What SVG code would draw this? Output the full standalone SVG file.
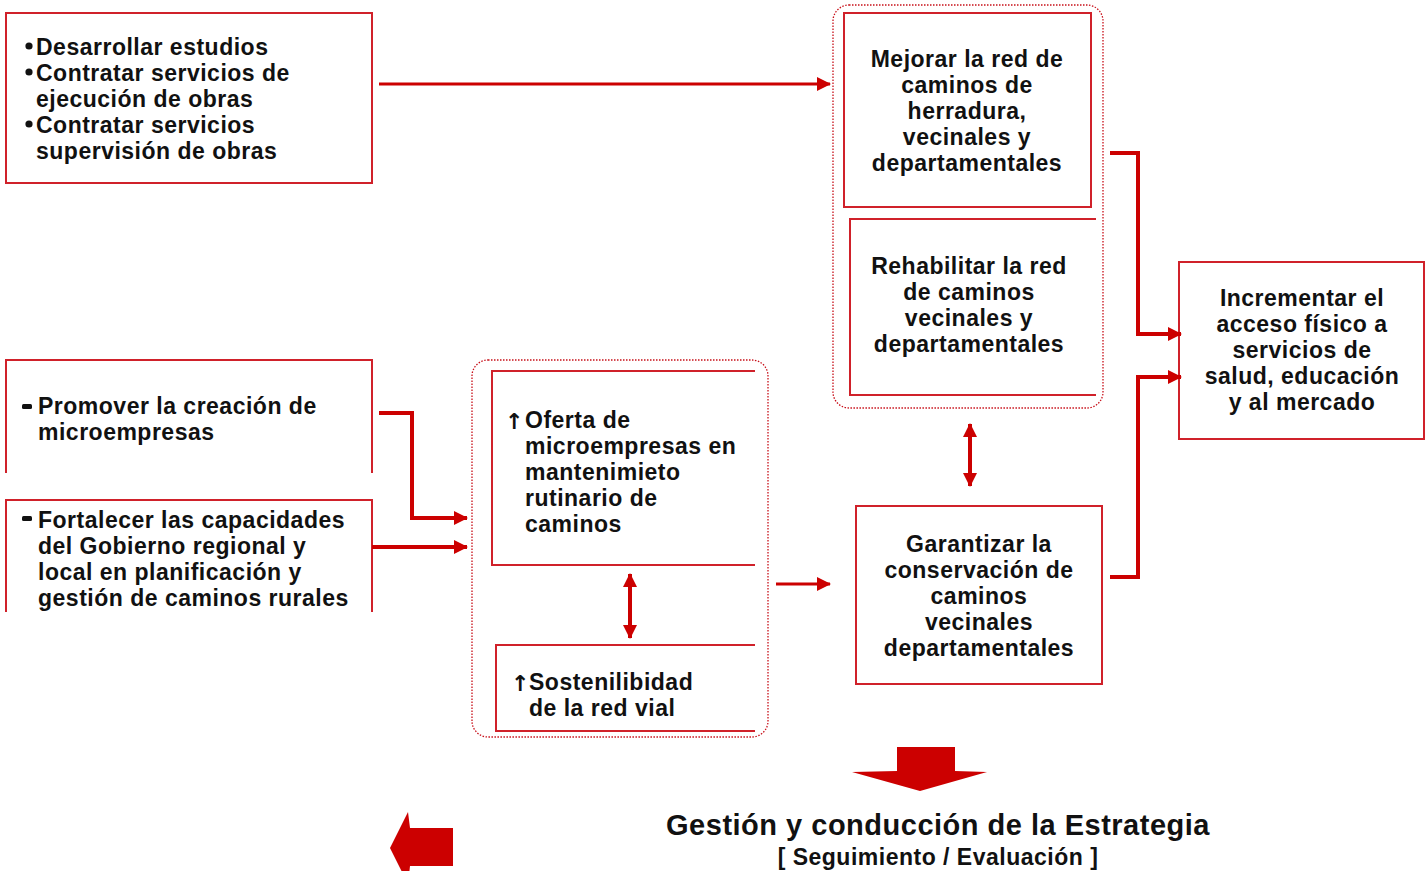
<svg xmlns="http://www.w3.org/2000/svg" width="1428" height="871" viewBox="0 0 1428 871">
<style>
.box{fill:none;stroke:#D0212A;stroke-width:2}
.grp{fill:none;stroke:#C8101A;stroke-width:1.3;stroke-dasharray:1.5 1.5}
.t{font-family:"Liberation Sans",Arial,sans-serif;font-weight:bold;font-size:23px;letter-spacing:0.5px;fill:#111}
.c{text-anchor:middle}
.con{fill:none;stroke:#CC0000;stroke-width:4}
.thin{stroke-width:3}
.red{fill:#CC0000}
.sym{font-family:"DejaVu Sans",sans-serif;font-weight:bold;font-size:22px;fill:#111}
</style>
<defs>
<marker id="ah" markerUnits="userSpaceOnUse" markerWidth="16" markerHeight="16" refX="13" refY="7" orient="auto">
<path d="M0,0 L14,7 L0,14 Z" fill="#CC0000"/>
</marker>
<marker id="ahs" markerUnits="userSpaceOnUse" markerWidth="16" markerHeight="16" refX="13" refY="7" orient="auto-start-reverse">
<path d="M0,0 L14,7 L0,14 Z" fill="#CC0000"/>
</marker>
</defs>

<g id="n-actividades">
<rect class="box" x="6" y="13" width="366" height="170"/>
<circle style="fill:#111" cx="29" cy="46" r="3.6"/>
<circle style="fill:#111" cx="29" cy="72" r="3.6"/>
<circle style="fill:#111" cx="29" cy="124" r="3.6"/>
<text class="t" x="36" y="55">Desarrollar estudios</text>
<text class="t" x="36" y="81">Contratar servicios de</text>
<text class="t" x="36" y="107">ejecución de obras</text>
<text class="t" x="36" y="133">Contratar servicios</text>
<text class="t" x="36" y="159">supervisión de obras</text>
</g>

<g id="g-top">
<rect class="grp" x="833" y="5" width="270" height="403" rx="16"/>
</g>
<g id="n-mejorar">
<rect class="box" x="844" y="13" width="247" height="194"/>
<text class="t c" x="967" y="67">Mejorar la red de</text>
<text class="t c" x="967" y="93">caminos de</text>
<text class="t c" x="967" y="119">herradura,</text>
<text class="t c" x="967" y="145">vecinales y</text>
<text class="t c" x="967" y="171">departamentales</text>
</g>
<g id="n-rehabilitar">
<path class="box" d="M1096,219 H850 V395 H1096"/>
<text class="t c" x="969" y="274">Rehabilitar la red</text>
<text class="t c" x="969" y="300">de caminos</text>
<text class="t c" x="969" y="326">vecinales y</text>
<text class="t c" x="969" y="352">departamentales</text>
</g>

<g id="n-incrementar">
<rect class="box" x="1179" y="262" width="245" height="177"/>
<text class="t c" x="1302" y="306">Incrementar el</text>
<text class="t c" x="1302" y="332">acceso físico a</text>
<text class="t c" x="1302" y="358">servicios de</text>
<text class="t c" x="1302" y="384">salud, educación</text>
<text class="t c" x="1302" y="410">y al mercado</text>
</g>

<g id="n-promover">
<path class="box" d="M6,473 V360 H372 V473"/>
<rect x="22" y="404" width="10" height="5" rx="1.5" fill="#111"/>
<text class="t" x="38" y="414">Promover la creación de</text>
<text class="t" x="38" y="440">microempresas</text>
</g>

<g id="n-fortalecer">
<path class="box" d="M6,612 V500 H372 V612"/>
<rect x="22" y="516" width="10" height="5" rx="1.5" fill="#111"/>
<text class="t" x="38" y="528">Fortalecer las capacidades</text>
<text class="t" x="38" y="554">del Gobierno regional y</text>
<text class="t" x="38" y="580">local en planificación y</text>
<text class="t" x="38" y="606">gestión de caminos rurales</text>
</g>

<g id="g-mid">
<rect class="grp" x="472" y="360" width="296" height="377" rx="16"/>
</g>
<g id="n-oferta">
<path class="box" d="M755,371 H492 V565 H755"/>
<text class="sym" x="505" y="429">↑</text>
<text class="t" x="525" y="428">Oferta de</text>
<text class="t" x="525" y="454">microempresas en</text>
<text class="t" x="525" y="480">mantenimieto</text>
<text class="t" x="525" y="506">rutinario de</text>
<text class="t" x="525" y="532">caminos</text>
</g>
<g id="n-sostenibilidad">
<path class="box" d="M755,645 H496 V731 H755"/>
<text class="sym" x="511" y="691">↑</text>
<text class="t" x="529" y="690">Sostenilibidad</text>
<text class="t" x="529" y="716">de la red vial</text>
</g>

<g id="n-garantizar">
<rect class="box" x="856" y="506" width="246" height="178"/>
<text class="t c" x="979" y="552">Garantizar la</text>
<text class="t c" x="979" y="578">conservación de</text>
<text class="t c" x="979" y="604">caminos</text>
<text class="t c" x="979" y="630">vecinales</text>
<text class="t c" x="979" y="656">departamentales</text>
</g>

<g id="n-gestion">
<path class="red" d="M897,747 H955 V771 L987,772 L920,791 L852,772 L897,771 Z"/>
<path class="red" d="M453,828 V866 H410 L408,884 L390,848 L408,812 L410,828 Z"/>
<text x="938" y="835" text-anchor="middle" style="font-family:'Liberation Sans',Arial,sans-serif;font-weight:bold;font-size:29px;letter-spacing:0.5px;fill:#111">Gestión y conducción de la Estrategia</text>
<text x="938" y="865" text-anchor="middle" style="font-family:'Liberation Sans',Arial,sans-serif;font-weight:bold;font-size:23px;letter-spacing:0.5px;fill:#111">[ Seguimiento / Evaluación ]</text>
</g>

<g id="connectors">
<path class="con thin" d="M379,84 H830" marker-end="url(#ah)"/>
<path class="con" d="M1110,153 H1138 V334 H1181" marker-end="url(#ah)"/>
<path class="con" d="M1110,577 H1138 V377 H1181" marker-end="url(#ah)"/>
<path class="con" d="M379,413 H412 V518 H467" marker-end="url(#ah)"/>
<path class="con" d="M372,547 H467" marker-end="url(#ah)"/>
<path class="con thin" d="M776,584 H830" marker-end="url(#ah)"/>
<path class="con" d="M630,574 V638" marker-start="url(#ahs)" marker-end="url(#ahs)"/>
<path class="con" d="M970,424 V486" marker-start="url(#ahs)" marker-end="url(#ahs)"/>
</g>
</svg>
